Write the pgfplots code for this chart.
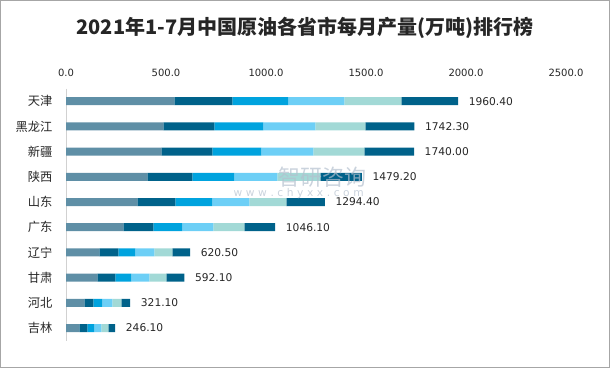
\documentclass[border=0pt]{standalone}
\usepackage{pgfplots}
\pgfplotsset{compat=1.18}
\usepackage{pgfplotstable}
\usepackage{fontspec}
\setmainfont{DejaVu Sans}
\newfontfamily\cjk{Noto Sans CJK SC}
\definecolor{c1}{HTML}{5F8FA6}
\definecolor{c2}{HTML}{00628A}
\definecolor{c3}{HTML}{00A3DE}
\definecolor{c4}{HTML}{6DCFF6}
\definecolor{c5}{HTML}{A2D9D6}
\definecolor{c6}{HTML}{00628A}
\definecolor{wm}{HTML}{B4C0CE}
\pgfplotstableread{
y a b c d e f tot lbl
0 541.5 290 280 280 285 283.9 1960.4 1960.40
1 486.5 255 245 260 250 245.8 1742.3 1742.30
2 476.5 255 245 260 255 248.5 1740.0 1740.00
3 406.5 225 210 215 215 207.7 1479.2 1479.20
4 356.5 190 185 185 185 192.9 1294.4 1294.40
5 286.5 150 145 155 155 154.6 1046.1 1046.10
6 166.5 95 85 95 90 89.0 620.5 620.50
7 156.5 90 80 90 85 90.6 592.1 592.10
8 91.5 45 45 50 45 44.6 321.1 321.10
9 66.5 40 35 35 35 34.6 246.1 246.10
}\data
\begin{document}
\begin{tikzpicture}
\useasboundingbox (0,0) rectangle (457.5pt,276pt);
\draw[black!35, line width=0.75pt] (0.375pt,0.375pt) rectangle (457.125pt,275.625pt);
\node[font=\cjk\bfseries\fontsize{15}{18}\selectfont, text=black!85] at (228.75pt,255pt) {2021年1-7月中国原油各省市每月产量(万吨)排行榜};
\begin{axis}[at={(49.5pt,20.55pt)}, anchor=south west, scale only axis,
  width=375pt, height=189pt,
  xbar stacked, bar width=6pt,
  xmin=0, xmax=2500, ymin=-0.5, ymax=9.5, y dir=reverse,
  ytick={0,...,9},
  yticklabels={天津,黑龙江,新疆,陕西,山东,广东,辽宁,甘肃,河北,吉林},
  yticklabel style={font=\cjk\fontsize{9.2}{10}\selectfont, text=black!85, anchor=east, inner sep=0pt, xshift=-10pt},
  xtick={0,500,1000,1500,2000,2500},
  xticklabel pos=upper,
  xticklabel style={font=\fontsize{7.5}{9}\selectfont, text=black!85, anchor=center, yshift=12pt},
  /pgf/number format/.cd, fixed, fixed zerofill, precision=1, 1000 sep={}, assume math mode=true, /pgfplots/.cd,
  axis x line*=top, axis y line*=left,
  x axis line style={draw=none}, y axis line style={draw=black!18, line width=0.75pt},
  major tick length=0pt, tick style={draw=none},
  clip=false,
]
\addplot[fill=c1, draw=none] table[x=a,y=y]{\data};
\addplot[fill=c2, draw=none] table[x=b,y=y]{\data};
\addplot[fill=c3, draw=none] table[x=c,y=y]{\data};
\addplot[fill=c4, draw=none] table[x=d,y=y]{\data};
\addplot[fill=c5, draw=none] table[x=e,y=y]{\data};
\addplot[fill=c6, draw=none] table[x=f,y=y]{\data};
\end{axis}
\node[font=\cjk\fontsize{16.5}{18}\selectfont, text=wm, opacity=0.7] at (241.5pt,143.25pt) {智研咨询};
\node[font=\fontsize{8}{9}\selectfont, text=wm, opacity=0.7] at (224pt,131pt) {w\,\,w\,\,w\,\,.\,\,c\,\,h\,\,y\,\,x\,\,x\,\,.\,\,c\,\,o\,\,m};
\begin{axis}[at={(49.5pt,20.55pt)}, anchor=south west, scale only axis,
  width=375pt, height=189pt, hide axis, clip=false,
  xmin=0, xmax=2500, ymin=-0.5, ymax=9.5, y dir=reverse]
\addplot[only marks, mark=none, point meta=explicit symbolic,
  nodes near coords, nodes near coords style={anchor=west, font=\fontsize{8}{9}\selectfont, text=black!85, xshift=4.5pt}]
  table[x=tot,y=y,meta=lbl]{\data};
\end{axis}
\end{tikzpicture}
\end{document}
